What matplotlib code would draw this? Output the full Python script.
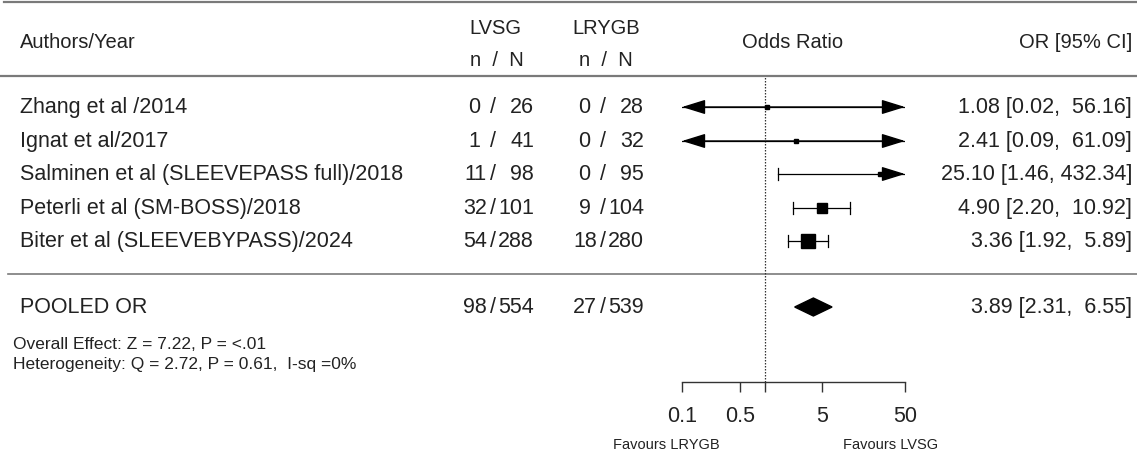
import numpy as np
import matplotlib
matplotlib.use("Agg")
import matplotlib.pyplot as plt

plt.rcParams['font.family'] = ['Liberation Sans', 'DejaVu Sans']

# data
studies = ["Zhang et al /2014", "Ignat et al/2017",
           "Salminen et al (SLEEVEPASS full)/2018",
           "Peterli et al (SM-BOSS)/2018",
           "Biter et al (SLEEVEBYPASS)/2024"]
lvsg_n = [0, 1, 11, 32, 54]
lvsg_N = [26, 41, 98, 101, 288]
lrygb_n = [0, 0, 0, 9, 18]
lrygb_N = [28, 32, 95, 104, 280]
or_est = [1.08, 2.41, 25.10, 4.90, 3.36]
ci_lo = [0.02, 0.09, 1.46, 2.20, 1.92]
ci_hi = [56.16, 61.09, 432.34, 10.92, 5.89]

pooled_label = "POOLED OR"
pooled_n = [98, 27]
pooled_N = [554, 539]
pooled_or = 3.89
pooled_lo = 2.31
pooled_hi = 6.55

stats_lines = ["Overall Effect: Z = 7.22, P = <.01",
               "Heterogeneity: Q = 2.72, P = 0.61,  I-sq =0%"]
xticks = [0.1, 0.5, 1, 5, 50]
xticklabels = ["0.1", "0.5", "", "5", "50"]
xmin, xmax = 0.1, 50

# layout (pixel coordinates, y downward)
W, H = 1137, 456
row_y = [108, 142, 175, 209, 242]
pooled_y = 308
fs = 15.5
hfs = 14.5
tc = '#222222'

fig = plt.figure(figsize=(W / 100, H / 100), dpi=100)
bg = fig.add_axes([0, 0, 1, 1])
bg.set_xlim(0, W)
bg.set_ylim(H, 0)
bg.axis('off')

rule_col = '#7a7a7a'
bg.plot([4, W], [3, 3], color=rule_col, lw=1.6)
bg.plot([0, W], [77, 77], color=rule_col, lw=1.6)
bg.plot([8, W], [275, 275], color=rule_col, lw=1.2)

# header
bg.text(20, 42, "Authors/Year", fontsize=hfs, va='center', ha='left', color=tc)
bg.text(495, 28, "LVSG", fontsize=hfs, va='center', ha='center', color=tc)
bg.text(497, 61, "n  /  N", fontsize=hfs, va='center', ha='center', color=tc)
bg.text(606, 28, "LRYGB", fontsize=hfs, va='center', ha='center', color=tc)
bg.text(606, 61, "n  /  N", fontsize=hfs, va='center', ha='center', color=tc)
bg.text(793, 42, "Odds Ratio", fontsize=hfs, va='center', ha='center', color=tc)
bg.text(1132, 42, "OR [95% CI]", fontsize=hfs, va='center', ha='right', color=tc)


def frac(xc, y, n, N):
    # numerator / denominator aligned on the slash
    bg.text(xc - 6, y, f"{n}" if n >= 10 else f"{n} ", fontsize=fs, va='center', ha='right', color=tc)
    bg.text(xc, y, "/", fontsize=fs, va='center', ha='center', color=tc)
    bg.text(xc + 41, y, f"{N}", fontsize=fs, va='center', ha='right', color=tc)


def or_text(est, lo, hi):
    sep = ",  " if hi < 100 else ", "
    return f"{est:.2f} [{lo:.2f}{sep}{hi:.2f}]"


for i, y in enumerate(row_y):
    bg.text(20, y, studies[i], fontsize=fs, va='center', ha='left', color=tc)
    frac(493, y, lvsg_n[i], lvsg_N[i])
    frac(603, y, lrygb_n[i], lrygb_N[i])
    bg.text(1132, y, or_text(or_est[i], ci_lo[i], ci_hi[i]), fontsize=fs, va='center', ha='right', color=tc)

bg.text(20, pooled_y, pooled_label, fontsize=fs, va='center', ha='left', color=tc)
frac(493, pooled_y, pooled_n[0], pooled_N[0])
frac(603, pooled_y, pooled_n[1], pooled_N[1])
bg.text(1132, pooled_y, or_text(pooled_or, pooled_lo, pooled_hi), fontsize=fs, va='center', ha='right', color=tc)
bg.text(13, 345, stats_lines[0], fontsize=12.5, va='center', ha='left', color=tc)
bg.text(13, 365, stats_lines[1], fontsize=12.5, va='center', ha='left', color=tc)

# forest panel
x0, x1 = 682, 905
y_top, y_bot = 78, 383
ax = fig.add_axes([x0 / W, 1 - y_bot / H, (x1 - x0) / W, (y_bot - y_top) / H])
ax.set_xscale('log')
ax.set_xlim(xmin, xmax)
ax.set_ylim(y_bot, y_top)
ax.patch.set_alpha(0)
for s in ['top', 'right', 'left']:
    ax.spines[s].set_visible(False)
ax.spines['bottom'].set_color('#333333')
ax.spines['bottom'].set_linewidth(1.0)
ax.set_yticks([])
ax.set_xticks(xticks)
ax.set_xticklabels(xticklabels)
ax.minorticks_off()
ax.tick_params(axis='x', length=7.5, width=1.0, color='#333333', labelsize=fs, pad=9, labelcolor=tc)

ax.axvline(1, color='#333333', lw=0.9, ls=(0, (1.2, 1.2)))

# square sizes scaled by inverse-variance weight
se = [(np.log(h) - np.log(l)) / (2 * 1.96) for l, h in zip(ci_lo, ci_hi)]
w = [1 / s ** 2 for s in se]
wmax = max(w)
head = dict(arrowstyle='-|>,head_length=1.45,head_width=0.45', color='black', lw=1.0,
            shrinkA=0, shrinkB=0)
for i, y in enumerate(row_y):
    lo, hi, est = ci_lo[i], ci_hi[i], or_est[i]
    lo_c, hi_c = max(lo, xmin), min(hi, xmax)
    ax.plot([lo_c, hi_c], [y, y], color='black', lw=0.9)
    if lo < xmin:
        ax.annotate('', xy=(xmin, y), xytext=(est, y), arrowprops=head)
    else:
        ax.plot([lo, lo], [y - 6, y + 6], color='black', lw=0.9)
    if hi > xmax:
        ax.annotate('', xy=(xmax, y), xytext=(est, y), arrowprops=head)
    else:
        ax.plot([hi, hi], [y - 6, y + 6], color='black', lw=0.9)
    size = max(10.5 * np.sqrt(w[i] / wmax), 3.4)
    ax.plot([est], [y], marker='s', ms=size, color='black', mec='black')

# pooled diamond
ax.fill([pooled_lo, pooled_or, pooled_hi, pooled_or],
        [pooled_y, pooled_y - 9, pooled_y, pooled_y + 9], color='black')

bg.text(666, 445, "Favours LRYGB", fontsize=10.5, va='center', ha='center', color=tc)
bg.text(891, 445, "Favours LVSG", fontsize=10.5, va='center', ha='center', color=tc)

fig.savefig("out.png", dpi=100)
